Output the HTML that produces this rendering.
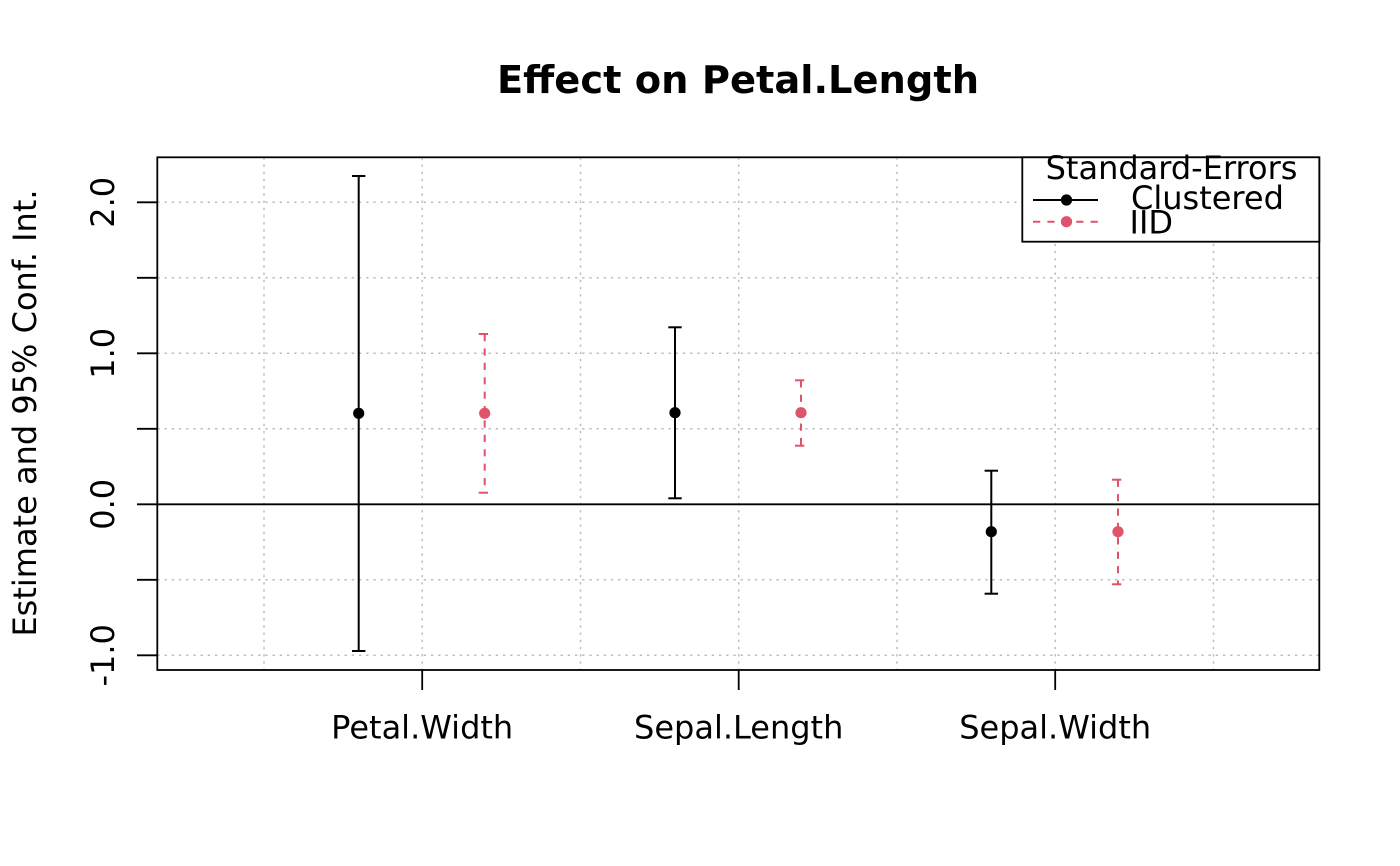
<!DOCTYPE html>
<html>
<head>
<meta charset="utf-8">
<style>
  html, body { margin: 0; padding: 0; background: #ffffff; }
  svg { display: block; }
  text { font-family: "DejaVu Sans", "Liberation Sans", sans-serif; fill: #000; }
</style>
</head>
<body>
<svg width="1400" height="866" viewBox="0 0 1400 866" xmlns="http://www.w3.org/2000/svg">
  <rect x="0" y="0" width="1400" height="866" fill="#ffffff"/>

  <!-- Title -->
  <text x="738" y="93" font-size="38.4" font-weight="bold" text-anchor="middle">Effect on Petal.Length</text>

  <!-- Grid -->
  <g stroke="#bebebe" stroke-width="1.5" stroke-dasharray="2.4 4.8" fill="none">
    <line x1="264" y1="157.3" x2="264" y2="670"/>
    <line x1="422.2" y1="157.3" x2="422.2" y2="670"/>
    <line x1="580.5" y1="157.3" x2="580.5" y2="670"/>
    <line x1="738.7" y1="157.3" x2="738.7" y2="670"/>
    <line x1="897" y1="157.3" x2="897" y2="670"/>
    <line x1="1055.2" y1="157.3" x2="1055.2" y2="670"/>
    <line x1="1213.5" y1="157.3" x2="1213.5" y2="670"/>
    <line x1="157.3" y1="202.3" x2="1319.3" y2="202.3"/>
    <line x1="157.3" y1="277.8" x2="1319.3" y2="277.8"/>
    <line x1="157.3" y1="353.3" x2="1319.3" y2="353.3"/>
    <line x1="157.3" y1="428.8" x2="1319.3" y2="428.8"/>
    <line x1="157.3" y1="579.8" x2="1319.3" y2="579.8"/>
    <line x1="157.3" y1="655.3" x2="1319.3" y2="655.3"/>
  </g>

  <!-- Zero line -->
  <line x1="157.3" y1="504.3" x2="1319.3" y2="504.3" stroke="#000" stroke-width="1.8"/>

  <!-- Plot box -->
  <rect x="157.3" y="157.3" width="1162" height="512.7" fill="none" stroke="#000" stroke-width="1.8"/>

  <!-- Ticks -->
  <g stroke="#000" stroke-width="1.8">
    <line x1="137" y1="202.3" x2="157.3" y2="202.3"/>
    <line x1="137" y1="277.8" x2="157.3" y2="277.8"/>
    <line x1="137" y1="353.3" x2="157.3" y2="353.3"/>
    <line x1="137" y1="428.8" x2="157.3" y2="428.8"/>
    <line x1="137" y1="504.3" x2="157.3" y2="504.3"/>
    <line x1="137" y1="579.8" x2="157.3" y2="579.8"/>
    <line x1="137" y1="655.3" x2="157.3" y2="655.3"/>
    <line x1="422.2" y1="670" x2="422.2" y2="690"/>
    <line x1="738.7" y1="670" x2="738.7" y2="690"/>
    <line x1="1055.2" y1="670" x2="1055.2" y2="690"/>
  </g>

  <!-- Y tick labels -->
  <g font-size="32" text-anchor="middle">
    <text transform="translate(114,202.3) rotate(-90)">2.0</text>
    <text transform="translate(114,353.3) rotate(-90)">1.0</text>
    <text transform="translate(114,504.3) rotate(-90)">0.0</text>
    <text transform="translate(114,655.3) rotate(-90)">-1.0</text>
  </g>

  <!-- Y axis label -->
  <text font-size="32" text-anchor="middle" transform="translate(36,413) rotate(-90)">Estimate and 95% Conf. Int.</text>

  <!-- X tick labels -->
  <g font-size="32" text-anchor="middle">
    <text x="422.2" y="738.5">Petal.Width</text>
    <text x="738.7" y="738.5">Sepal.Length</text>
    <text x="1055.2" y="738.5">Sepal.Width</text>
  </g>

  <!-- Clustered error bars -->
  <g stroke="#000" stroke-width="2" fill="none">
    <line x1="358.7" y1="176" x2="358.7" y2="651"/>
    <line x1="352" y1="176" x2="365.4" y2="176"/>
    <line x1="352" y1="651" x2="365.4" y2="651"/>
    <line x1="675" y1="327.3" x2="675" y2="498.3"/>
    <line x1="668.3" y1="327.3" x2="681.7" y2="327.3"/>
    <line x1="668.3" y1="498.3" x2="681.7" y2="498.3"/>
    <line x1="991.3" y1="470.7" x2="991.3" y2="593.7"/>
    <line x1="984.6" y1="470.7" x2="998" y2="470.7"/>
    <line x1="984.6" y1="593.7" x2="998" y2="593.7"/>
  </g>
  <g fill="#000">
    <circle cx="358.7" cy="413.3" r="5.6"/>
    <circle cx="675" cy="412.7" r="5.6"/>
    <circle cx="991.3" cy="531.7" r="5.6"/>
  </g>

  <!-- IID error bars -->
  <g stroke="#DF536B" stroke-width="2" fill="none">
    <line x1="484.7" y1="334" x2="484.7" y2="492.7" stroke-dasharray="7.2 7.2"/>
    <line x1="478.7" y1="334" x2="488" y2="334"/>
    <line x1="478.7" y1="492.7" x2="488" y2="492.7"/>
    <line x1="801" y1="380.3" x2="801" y2="445.7" stroke-dasharray="7.2 7.2"/>
    <line x1="795" y1="380.3" x2="804.3" y2="380.3"/>
    <line x1="795" y1="445.7" x2="804.3" y2="445.7"/>
    <line x1="1118" y1="479.7" x2="1118" y2="584.3" stroke-dasharray="7.2 7.2"/>
    <line x1="1112" y1="479.7" x2="1121.3" y2="479.7"/>
    <line x1="1112" y1="584.3" x2="1121.3" y2="584.3"/>
  </g>
  <g fill="#DF536B">
    <circle cx="484.7" cy="413.3" r="5.6"/>
    <circle cx="801" cy="412.7" r="5.6"/>
    <circle cx="1118" cy="531.7" r="5.6"/>
  </g>

  <!-- Legend -->
  <rect x="1022.3" y="157.3" width="297" height="84.4" fill="#ffffff" stroke="#000" stroke-width="1.8"/>
  <text x="1171.5" y="179" font-size="32" text-anchor="middle">Standard-Errors</text>
  <line x1="1033" y1="200" x2="1098" y2="200" stroke="#000" stroke-width="2"/>
  <circle cx="1066.5" cy="200" r="5.6" fill="#000"/>
  <line x1="1033" y1="221.7" x2="1098" y2="221.7" stroke="#DF536B" stroke-width="2" stroke-dasharray="7.2 7.2"/>
  <circle cx="1066.5" cy="221.7" r="5.6" fill="#DF536B"/>
  <text x="1131" y="209" font-size="32">Clustered</text>
  <text x="1129.5" y="233.5" font-size="32">IID</text>
</svg>
</body>
</html>
